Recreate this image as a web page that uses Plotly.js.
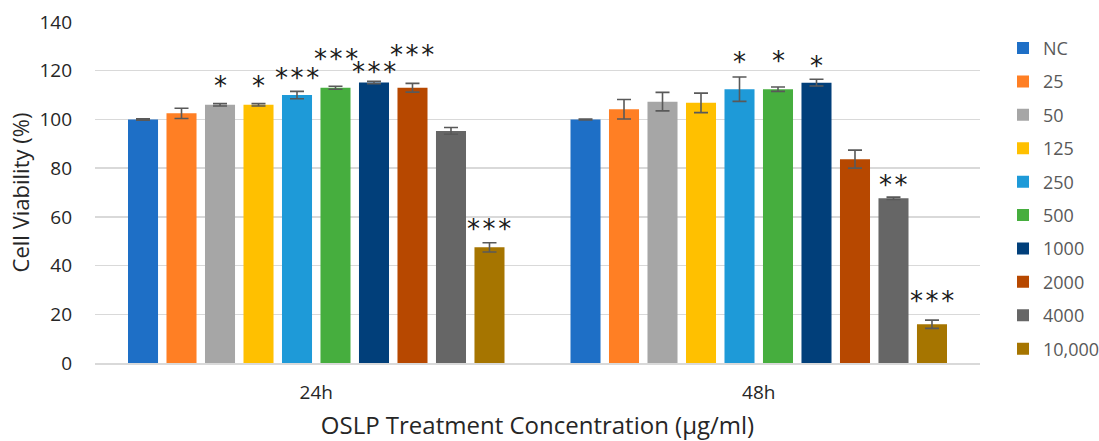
<!DOCTYPE html>
<html>
<head>
<meta charset="utf-8">
<script src="https://cdn.plot.ly/plotly-3.0.1.min.js"></script>
<style>html,body{margin:0;padding:0;background:#fff;}#chart{width:1099px;height:441px;}</style>
</head>
<body>
<div id="chart"></div>
<script>
// ---- data ----
const timepoints = ["24h", "48h"];
const concentrations = ["NC", "25", "50", "125", "250", "500", "1000", "2000", "4000", "10,000"];
const colors = ["#1E6FC6", "#FF7F24", "#A6A6A6", "#FFC000", "#1E9AD8", "#46AE3E", "#013F7A", "#B74800", "#666666", "#A67500"];
const viability24 = [100, 102.5, 106, 106, 110, 113, 115.2, 113, 95.3, 47.5];
const viability48 = [100, 104.2, 107.3, 106.8, 112.4, 112.4, 115.1, 83.7, 67.6, 15.9];
const error24 = [0.3, 2.1, 0.5, 0.5, 1.5, 0.6, 0.5, 1.8, 1.4, 1.9];
const error48 = [0.2, 4.0, 3.8, 4.0, 5.0, 0.9, 1.4, 3.7, 0.5, 1.7];
const stars24 = ["", "", "*", "*", "***", "***", "***", "***", "", "***"];
const stars48 = ["", "", "", "", "*", "*", "*", "", "**", "***"];
const starY24 = [0, 0, 116, 116, 119.3, 127.4, 121.9, 128.9, 0, 57.6];
const starY48 = [0, 0, 0, 0, 126, 126.3, 124.6, 0, 75.4, 28];

const BARGAP = 0.13, GROUPGAP = 0.22;
const nSeries = concentrations.length;

const traces = concentrations.map((c, i) => ({
  type: "bar",
  name: c,
  legendgroup: "g" + i,
  x: timepoints,
  y: [viability24[i], viability48[i]],
  marker: {color: colors[i]},
  error_y: {type: "data", array: [error24[i], error48[i]], visible: true, color: "#595959", thickness: 1.6, width: 7},
  hoverinfo: "x+y+name"
}));

const annotations = [];
const slot = (1 - BARGAP) / nSeries;
[[stars24, starY24], [stars48, starY48]].forEach(([st, sy], g) => {
  st.forEach((s, i) => {
    if (!s) return;
    annotations.push({
      x: g - (1 - BARGAP) / 2 + slot * (i + 0.5),
      y: sy[i],
      xref: "x", yref: "y",
      text: s.split("").join("\u200A"),
      showarrow: false,
      yshift: -6,
      font: {family: "DejaVu Sans, sans-serif", size: 26, color: "#1a1a1a"}
    });
  });
});

const layout = {
  width: 1099, height: 441,
  margin: {l: 95, r: 119, t: 22, b: 78, autoexpand: false},
  paper_bgcolor: "#ffffff", plot_bgcolor: "#ffffff",
  barmode: "group", bargap: BARGAP, bargroupgap: GROUPGAP,
  font: {family: "'Open Sans', sans-serif", color: "#595959", size: 18},
  xaxis: {
    type: "category",
    showgrid: false, showline: true, linecolor: "#D9D9D9", linewidth: 1.5,
    ticks: "", tickfont: {size: 19, color: "#262626"},
    ticklabelstandoff: 12,
    title: {text: "OSLP Treatment Concentration (µg/ml)", font: {size: 24, color: "#262626"}, standoff: 14},
    automargin: false
  },
  yaxis: {
    range: [0, 140], dtick: 20,
    showgrid: true, gridcolor: "#D9D9D9", gridwidth: 1.5,
    zeroline: false, showline: false, ticks: "",
    tickfont: {size: 19, color: "#262626"},
    ticklabelstandoff: 22,
    title: {text: "Cell Viability (%)", font: {size: 22, color: "#262626"}, standoff: 3},
    automargin: false
  },
  legend: {
    x: 1.026, xanchor: "left", y: 0.977, yanchor: "top",
    font: {size: 18, color: "#595959"},
    tracegroupgap: 7,
    bgcolor: "rgba(0,0,0,0)"
  },
  annotations: annotations,
  showlegend: true
};

Plotly.newPlot("chart", traces, layout, {displayModeBar: false, staticPlot: true});
</script>
</body>
</html>
